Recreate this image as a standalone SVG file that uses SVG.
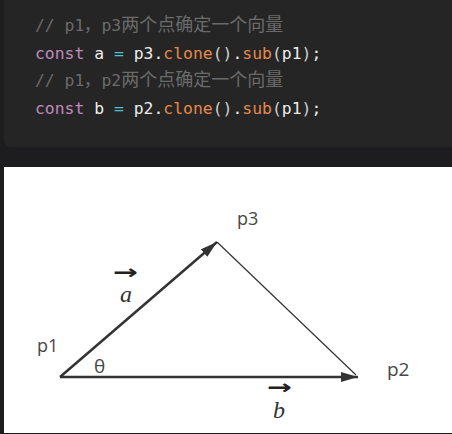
<svg xmlns="http://www.w3.org/2000/svg" width="452" height="434" viewBox="0 0 452 434">
<style>
.code{font-family:"DejaVu Sans Mono","Liberation Mono",monospace;font-size:16.4px;fill:#ececec}
.cjk{font-family:"Noto Sans CJK SC",sans-serif;font-size:18px;fill:#6b6b6b}
.cm{fill:#6b6b6b}
.kw{fill:#c08bbd}
.op{fill:#4fc4cc}
.fn{fill:#e5894a}
.pn{fill:#cfcfcf}
.lbl{font-family:"Open Sans","Noto Sans",sans-serif;fill:#474747}
.vec{font-family:"Liberation Serif",serif;font-style:italic;font-size:24px;fill:#333}
.arr{font-family:"DejaVu Sans",sans-serif;font-size:20px;font-weight:bold;fill:#222}
.edge{stroke:#333;fill:none}
</style>
<defs>
<marker id="ah" markerUnits="userSpaceOnUse" markerWidth="17" markerHeight="10" refX="17" refY="5" orient="auto">
<path d="M0,0 L17,5 L0,10 z" fill="#333"/>
</marker>
</defs>
<rect x="0" y="0" width="452" height="434" fill="#1d1d20"/>
<rect id="code-panel" x="4" y="-10" width="460" height="157" rx="7" fill="#252525"/>
<g id="code">
<text class="code cm" x="35" y="31">// p1</text>
<text class="cjk" x="83.5" y="31">，</text>
<text class="code cm" x="101.5" y="31">p3</text>
<text class="cjk" x="121.3" y="31">两个点确定一个向量</text>
<text class="code" x="35" y="58.5"><tspan class="kw">const</tspan> a <tspan class="op">=</tspan> p3.<tspan class="fn">clone</tspan><tspan class="pn">()</tspan>.<tspan class="fn">sub</tspan><tspan class="pn">(</tspan>p1<tspan class="pn">)</tspan>;</text>
<text class="code cm" x="35" y="86">// p1</text>
<text class="cjk" x="83.5" y="86">，</text>
<text class="code cm" x="101.5" y="86">p2</text>
<text class="cjk" x="121.3" y="86">两个点确定一个向量</text>
<text class="code" x="35" y="113.5"><tspan class="kw">const</tspan> b <tspan class="op">=</tspan> p2.<tspan class="fn">clone</tspan><tspan class="pn">()</tspan>.<tspan class="fn">sub</tspan><tspan class="pn">(</tspan>p1<tspan class="pn">)</tspan>;</text>
</g>
<rect id="figure" x="4" y="167" width="448" height="266" fill="#ffffff"/>
<g id="connectors">
<line class="edge" x1="60" y1="377" x2="217" y2="242" stroke-width="2.5" marker-end="url(#ah)"/>
<line class="edge" x1="60" y1="377" x2="358" y2="377" stroke-width="2.5" marker-end="url(#ah)"/>
<line class="edge" x1="217" y1="242" x2="356" y2="375" stroke-width="1.2" stroke="#444"/>
</g>
<g id="p1"><text class="lbl" x="37" y="352" font-size="18">p1</text></g>
<g id="p2"><text class="lbl" x="387" y="376" font-size="19">p2</text></g>
<g id="p3"><text class="lbl" x="237" y="225" font-size="18">p3</text></g>
<g id="theta"><text class="lbl" x="94" y="373" font-size="19">θ</text></g>
<g id="vec-a">
<text class="arr" x="113" y="278.5" textLength="25" lengthAdjust="spacingAndGlyphs">→</text>
<text class="vec" x="120" y="302">a</text>
</g>
<g id="vec-b">
<text class="arr" x="267" y="394" textLength="25" lengthAdjust="spacingAndGlyphs">→</text>
<text class="vec" x="273" y="418">b</text>
</g>
</svg>
